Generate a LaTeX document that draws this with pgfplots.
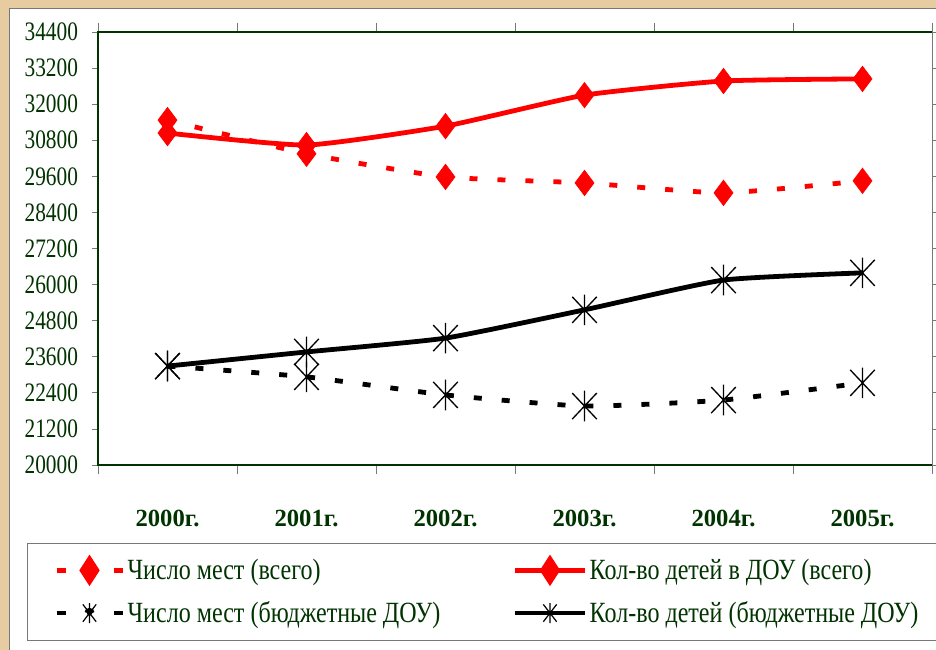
\documentclass[border=0pt]{standalone}
\usepackage{pgfplots}
\pgfplotsset{compat=1.18}
\usepackage{fontspec}
\setmainfont{Liberation Serif}
\newfontfamily\tickfont{Liberation Serif}[FakeStretch=0.8]
\newfontfamily\legfont{Liberation Serif}[FakeStretch=0.82]
\definecolor{txtgreen}{RGB}{0,51,0}
\definecolor{bgbeige}{RGB}{230,204,160}
\definecolor{frame}{RGB}{120,120,120}

% Excel-like star: vertical bar plus a cross
\pgfdeclareplotmark{xstar}{%
  \pgfpathmoveto{\pgfqpoint{0pt}{-\pgfplotmarksize}}%
  \pgfpathlineto{\pgfqpoint{0pt}{\pgfplotmarksize}}%
  \pgfpathmoveto{\pgfqpoint{-0.8\pgfplotmarksize}{-0.85\pgfplotmarksize}}%
  \pgfpathlineto{\pgfqpoint{0.8\pgfplotmarksize}{0.85\pgfplotmarksize}}%
  \pgfpathmoveto{\pgfqpoint{-0.8\pgfplotmarksize}{0.85\pgfplotmarksize}}%
  \pgfpathlineto{\pgfqpoint{0.8\pgfplotmarksize}{-0.85\pgfplotmarksize}}%
  \pgfusepathqstroke}

\begin{document}
\begin{tikzpicture}
  \path[use as bounding box, fill=bgbeige] (0,0) rectangle (702pt,487.5pt);
  \draw[frame, fill=white] (6.75pt,-10pt) rectangle (720pt,481.5pt);

  \begin{axis}[
      at={(73.5pt,138.75pt)}, anchor=south west,
      scale only axis, width=625.5pt, height=324.75pt,
      clip=false,
      xmin=-0.5, xmax=5.5, ymin=20000, ymax=34400,
      ytick={20000,21200,...,34400},
      xtick={0,...,5},
      xticklabels={2000г.,2001г.,2002г.,2003г.,2004г.,2005г.},
      minor xtick={-0.5,0.5,...,5.5},
      major x tick style={draw=none},
      minor x tick style={frame, line width=0.6pt},
      minor tick length=7pt,
      major tick length=4.5pt,
      y tick style={frame, line width=0.6pt},
      tick align=outside,
      axis line style={draw=none},
      scaled y ticks=false,
      /pgf/number format/assume math mode=true,
      /pgf/number format/set thousands separator={},
      yticklabel style={font=\tickfont\fontsize{20}{20}\selectfont, text=txtgreen, xshift=-7pt},
      xticklabel style={font=\bfseries\fontsize{18.5}{18.5}\selectfont, text=txtgreen, yshift=-26pt},
      legend columns=2,
      legend cell align=left,
      legend style={at={(-0.0849,-0.180)}, anchor=north west, draw=frame,
        font=\legfont\fontsize{22}{22}\selectfont, text=txtgreen,
        inner xsep=20pt, inner ysep=10pt, row sep=11pt},
    ]
    \addplot[red, line width=3.6pt, smooth, tension=0.3, dash pattern=on 6pt off 15pt,
      mark=diamond*, mark size=9.5pt, mark options={solid, line width=0.5pt},
      legend image code/.code={
        \draw[red, line width=3.6pt, dash pattern=on 6.75pt off 36pt] (0pt,0pt) -- (49.5pt,0pt);
        \fill[red, solid] (24.75pt,8.5pt) -- (30.25pt,0pt) -- (24.75pt,-8.5pt) -- (19.25pt,0pt) -- cycle;}]
      coordinates {(0,31470) (1,30350) (2,29580) (3,29380) (4,29050) (5,29450)};
    \addlegendentry{\makebox[287pt][l]{Число мест (всего)}}

    \addplot[red, line width=3.6pt, smooth, tension=0.3,
      mark=diamond*, mark size=9.5pt, mark options={line width=0.5pt},
      legend image code/.code={
        \draw[red, line width=3.6pt] (0pt,0pt) -- (52pt,0pt);
        \fill[red] (26pt,8.5pt) -- (31.5pt,0pt) -- (26pt,-8.5pt) -- (20.5pt,0pt) -- cycle;}]
      coordinates {(0,31040) (1,30640) (2,31270) (3,32300) (4,32770) (5,32840)};
    \addlegendentry{Кол-во детей в ДОУ (всего)}

    \addplot[black, line width=3.6pt, smooth, tension=0.3, dash pattern=on 6pt off 15pt,
      mark=xstar, mark size=11.5pt, mark options={solid, line width=1pt},
      legend image code/.code={
        \draw[black, line width=3.6pt, dash pattern=on 6.75pt off 36pt] (0pt,0pt) -- (49.5pt,0pt);
        \draw[black, solid, line width=0.9pt] (24.75pt,-7.5pt) -- (24.75pt,7.5pt)
          (19.75pt,-6.5pt) -- (29.75pt,6.5pt) (19.75pt,6.5pt) -- (29.75pt,-6.5pt);
        \fill[black] (24.75pt,0pt) circle (2pt);}]
      coordinates {(0,23290) (1,22930) (2,22330) (3,21960) (4,22160) (5,22730)};
    \addlegendentry{\makebox[287pt][l]{Число мест (бюджетные ДОУ)}}

    \addplot[black, line width=3.6pt, smooth, tension=0.3,
      mark=xstar, mark size=11.5pt, mark options={line width=1pt},
      legend image code/.code={
        \draw[black, line width=3.6pt] (0pt,0pt) -- (52pt,0pt);
        \draw[black, line width=0.9pt] (26pt,-7.5pt) -- (26pt,7.5pt)
          (21pt,-6.5pt) -- (31pt,6.5pt) (21pt,6.5pt) -- (31pt,-6.5pt);}]
      coordinates {(0,23290) (1,23760) (2,24220) (3,25160) (4,26150) (5,26390)};
    \addlegendentry{Кол-во детей (бюджетные ДОУ)}

    \draw[txtgreen, line width=1.6pt] (rel axis cs:1,0) -- (rel axis cs:0,0)
      -- (rel axis cs:0,1) -- (rel axis cs:1,1);
    \draw[frame, line width=0.6pt] (rel axis cs:1,0) -- (rel axis cs:1,1);
  \end{axis}
\end{tikzpicture}
\end{document}
